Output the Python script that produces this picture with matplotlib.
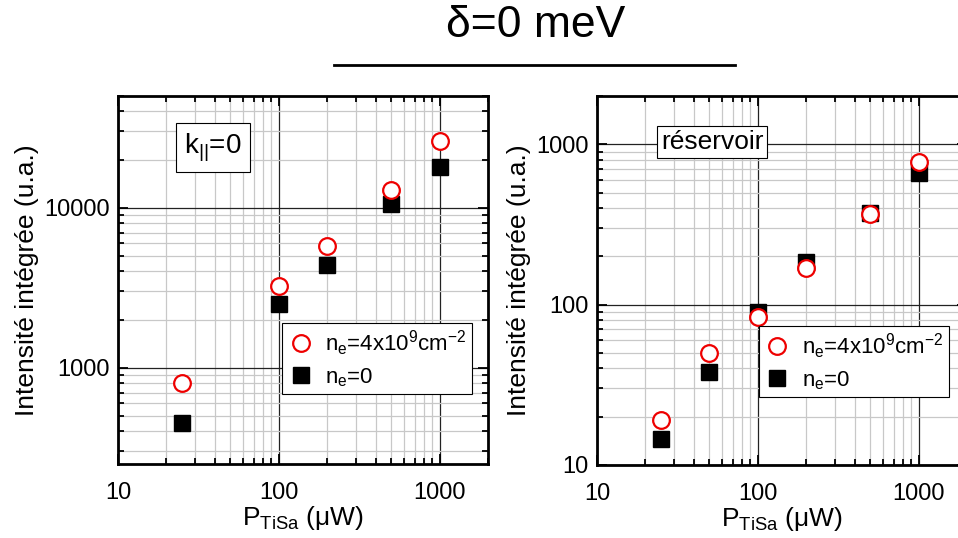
import matplotlib
matplotlib.use("Agg")
import matplotlib.pyplot as plt
from matplotlib.lines import Line2D
from matplotlib.ticker import LogLocator, NullFormatter, FixedLocator, FixedFormatter

plt.rcParams['font.family'] = ['Liberation Sans', 'DejaVu Sans']
plt.rcParams['mathtext.fontset'] = 'custom'
plt.rcParams['mathtext.rm'] = 'Liberation Sans'
plt.rcParams['mathtext.it'] = 'Liberation Sans'

# Data
power_k0 = [25, 100, 200, 500, 1000]
k0_ne4e9 = [800, 3250, 5800, 12900, 26000]
k0_ne0 = [453, 2510, 4400, 10600, 18000]

power_res = [25, 50, 100, 200, 500, 1000]
res_ne4e9 = [19, 50, 84, 168, 370, 770]
res_ne0 = [14.5, 38, 90, 185, 375, 660]

title = "δ=0 meV"
ylabel = "Intensité intégrée (u.a.)"
xlabel = r"P$_{\mathregular{TiSa}}$ ($\mathregular{\mu}$W)"
label_red = r"n$_\mathregular{e}$=4x10$^\mathregular{9}$cm$^\mathregular{-2}$"
label_black = r"n$_\mathregular{e}$=0"

fig = plt.figure(figsize=(9.58, 5.38), dpi=100)

ax1 = fig.add_axes([0.1232, 0.1375, 0.3862, 0.6841])
ax2 = fig.add_axes([0.6232, 0.1357, 0.3862, 0.6859])


def style(ax, ylim, yticks):
    ax.set_xscale('log')
    ax.set_yscale('log')
    ax.set_xlim(10, 2000)
    ax.set_ylim(*ylim)
    ax.xaxis.set_major_locator(FixedLocator([10, 100, 1000]))
    ax.xaxis.set_major_formatter(FixedFormatter(['10', '100', '1000']))
    ax.xaxis.set_minor_locator(LogLocator(base=10, subs=range(2, 10)))
    ax.xaxis.set_minor_formatter(NullFormatter())
    ax.yaxis.set_major_locator(FixedLocator(yticks))
    ax.yaxis.set_major_formatter(FixedFormatter([str(t) for t in yticks]))
    ax.yaxis.set_minor_locator(LogLocator(base=10, subs=range(2, 10)))
    ax.yaxis.set_minor_formatter(NullFormatter())
    ax.grid(which='major', color='#222222', linewidth=0.9, zorder=0)
    ax.grid(which='minor', color='#c8c8c8', linewidth=0.9, zorder=0)
    ax.set_axisbelow(True)
    ax.tick_params(which='both', direction='in', top=True, right=True,
                   labelsize=17, width=1.3, color='black')
    ax.tick_params(which='major', length=7)
    ax.tick_params(which='minor', length=4)
    ax.tick_params(axis='x', pad=13)
    ax.tick_params(axis='y', pad=6)
    for s in ax.spines.values():
        s.set_linewidth(2.0)
    ax.set_ylabel(ylabel, fontsize=19, labelpad=4)
    ax.set_xlabel(xlabel, fontsize=19, labelpad=0)


style(ax1, (250, 50000), [1000, 10000])
style(ax2, (10, 2000), [10, 100, 1000])

for ax, xs, red, blk in [(ax1, power_k0, k0_ne4e9, k0_ne0),
                          (ax2, power_res, res_ne4e9, res_ne0)]:
    ax.plot(xs, blk, linestyle='none', marker='s', markersize=11,
            color='black', zorder=3, clip_on=False)
    ax.plot(xs, red, linestyle='none', marker='o', markersize=12,
            markerfacecolor='white', markeredgecolor='#ee0000',
            markeredgewidth=1.6, zorder=4, clip_on=False)

handles = [Line2D([], [], linestyle='none', marker='o', markersize=12,
                  markerfacecolor='white', markeredgecolor='#ee0000',
                  markeredgewidth=1.6),
           Line2D([], [], linestyle='none', marker='s', markersize=11,
                  color='black')]
for ax, anchor in ((ax1, (0.957, 0.19)), (ax2, (0.951, 0.184))):
    leg = ax.legend(handles, [label_red, label_black], loc='lower right',
                    bbox_to_anchor=anchor,
                    fontsize=16, frameon=True, fancybox=False,
                    edgecolor='black', framealpha=1, borderpad=0.25,
                    handletextpad=0.5, labelspacing=0.35, handlelength=1.2,
                    borderaxespad=0)
    leg.get_frame().set_linewidth(0.8)

ax1.text(0.257, 0.859, r"k$_{||}$=0", transform=ax1.transAxes, fontsize=20,
         ha='center', va='center',
         bbox=dict(boxstyle='square,pad=0.3', facecolor='white',
                   edgecolor='black', linewidth=0.8))
ax2.text(0.311, 0.875, "réservoir", transform=ax2.transAxes, fontsize=19,
         ha='center', va='center',
         bbox=dict(boxstyle='square,pad=0.15', facecolor='white',
                   edgecolor='black', linewidth=0.8))

fig.text(0.559, 0.952, title, fontsize=32, ha='center', va='center')
fig.add_artist(Line2D([334 / 958, 735 / 958], [1 - 65 / 538, 1 - 65 / 538],
                      color='black', linewidth=2, transform=fig.transFigure))

fig.savefig("out.png", dpi=100)
